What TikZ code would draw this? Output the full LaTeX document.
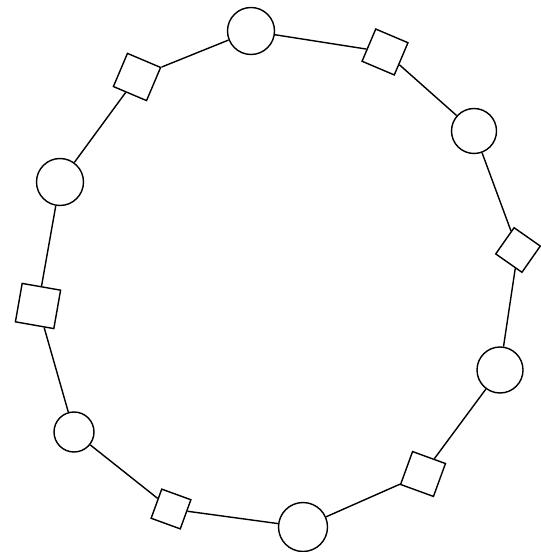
\documentclass[tikz,border=0pt]{standalone}

\begin{document}
\begin{tikzpicture}[thick,
          ring/.style={draw, circle, minimum size=0.94cm, inner sep=0pt},
          link/.style={draw, rectangle, minimum size=0.70cm, inner sep=0pt},
        ]
          \useasboundingbox (0,0) rectangle (10.8,-11.04);
          \node[ring] (c1) at ( 5.02, -0.62) {};
          \node[link, rotate=-23] (s1) at ( 7.70, -1.04) {};
          \node[ring, minimum size=0.90cm] (c2) at ( 9.48, -2.62) {};
          \node[link, rotate=-35, minimum size=0.64cm] (s2) at (10.36, -5.00) {};
          \node[ring, minimum size=0.92cm] (c3) at (10.00, -7.40) {};
          \node[link, rotate=-20] (s3) at ( 8.46, -9.48) {};
          \node[ring, minimum size=0.98cm] (c4) at ( 6.06,-10.54) {};
          \node[link, rotate=-20, minimum size=0.62cm] (s4) at ( 3.42,-10.18) {};
          \node[ring, minimum size=0.80cm] (c5) at ( 1.48, -8.64) {};
          \node[link, rotate=-10, minimum size=0.78cm] (s5) at ( 0.76, -6.12) {};
          \node[ring] (c6) at ( 1.20, -3.64) {};
          \node[link, rotate=-23, minimum size=0.72cm] (s6) at ( 2.74, -1.54) {};
          \draw (c1) -- (s1);
          \draw (s1) -- (c2);
          \draw (c2) -- (s2);
          \draw (s2) -- (c3);
          \draw (c3) -- (s3);
          \draw (s3) -- (c4);
          \draw (c4) -- (s4);
          \draw (s4) -- (c5);
          \draw (c5) -- (s5);
          \draw (s5) -- (c6);
          \draw (c6) -- (s6);
          \draw (s6) -- (c1);
        \end{tikzpicture}
\end{document}
